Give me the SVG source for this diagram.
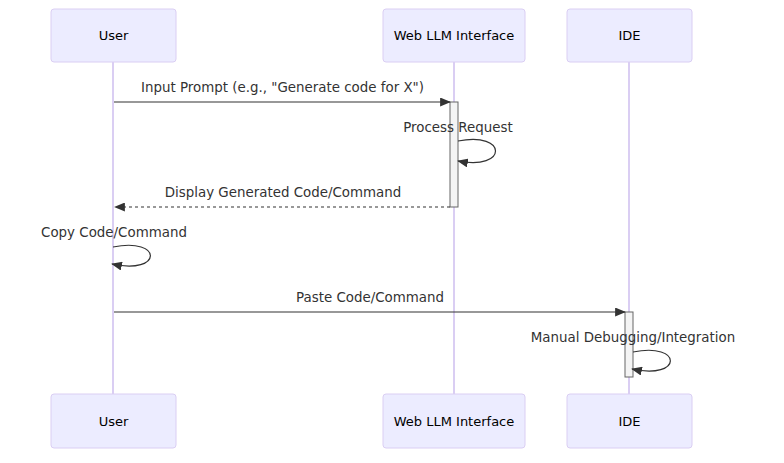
<svg xmlns="http://www.w3.org/2000/svg" width="784" height="463" viewBox="0 0 784 463">
<style>
.actor{fill:#ECECFF;stroke:#DACEF3;stroke-width:1}
.atext{font-family:"DejaVu Sans",sans-serif;font-size:13px;fill:#000;text-anchor:middle;dominant-baseline:central}
.life{stroke:#DACEF3;stroke-width:2}
.msg{stroke:#333;stroke-width:1.2;fill:none}
.dash{stroke-dasharray:3,3}
.mtext{font-family:"DejaVu Sans",sans-serif;font-size:13.4px;fill:#333;text-anchor:middle}
.act{fill:#f4f4f4;stroke:#666;stroke-width:1}
</style>
<defs>
<marker id="arrow" viewBox="0 0 12 10" refX="11" refY="5" markerWidth="11" markerHeight="9" markerUnits="userSpaceOnUse" orient="auto">
<path d="M0,0 L12,5 L0,10 Z" fill="#333"/>
</marker>
</defs>
<g id="lifelines">
<line class="life" x1="113" y1="62" x2="113" y2="394"/>
<line class="life" x1="454" y1="62" x2="454" y2="394"/>
<line class="life" x1="629" y1="62" x2="629" y2="394"/>
</g>
<g id="actor-user-top"><rect class="actor" x="51" y="9" width="125" height="53" rx="3"/><text class="atext" x="113.5" y="35.5">User</text></g>
<g id="actor-web-top"><rect class="actor" x="383" y="9" width="142" height="53" rx="3"/><text class="atext" x="454" y="35.5">Web LLM Interface</text></g>
<g id="actor-ide-top"><rect class="actor" x="567" y="9" width="125" height="53" rx="3"/><text class="atext" x="629.5" y="35.5">IDE</text></g>
<g id="actor-user-bottom"><rect class="actor" x="51" y="394" width="125" height="54" rx="3"/><text class="atext" x="113.5" y="421">User</text></g>
<g id="actor-web-bottom"><rect class="actor" x="383" y="394" width="142" height="54" rx="3"/><text class="atext" x="454" y="421">Web LLM Interface</text></g>
<g id="actor-ide-bottom"><rect class="actor" x="567" y="394" width="125" height="54" rx="3"/><text class="atext" x="629.5" y="421">IDE</text></g>
<g id="activation-web"><rect class="act" x="450" y="102" width="8" height="105"/></g>
<g id="activation-ide"><rect class="act" x="625" y="312" width="8" height="65"/></g>
<g id="connectors">
<line class="msg" x1="114" y1="102" x2="450" y2="102" marker-end="url(#arrow)"/>
<text class="mtext" x="282.5" y="92">Input Prompt (e.g., "Generate code for X")</text>
<path class="msg" d="M458,141 C508,131 508,171 458,161" marker-end="url(#arrow)"/>
<text class="mtext" x="458" y="132">Process Request</text>
<line class="msg dash" x1="450" y1="207" x2="115" y2="207" marker-end="url(#arrow)"/>
<text class="mtext" x="283" y="197">Display Generated Code/Command</text>
<path class="msg" d="M113,247 C163,237 163,275 112,264" marker-end="url(#arrow)"/>
<text class="mtext" x="114" y="237">Copy Code/Command</text>
<line class="msg" x1="114" y1="312" x2="625" y2="312" marker-end="url(#arrow)"/>
<text class="mtext" x="370" y="302">Paste Code/Command</text>
<path class="msg" d="M633,352 C683,342 683,380 632,369" marker-end="url(#arrow)"/>
<text class="mtext" x="633" y="342">Manual Debugging/Integration</text>
</g>
</svg>
